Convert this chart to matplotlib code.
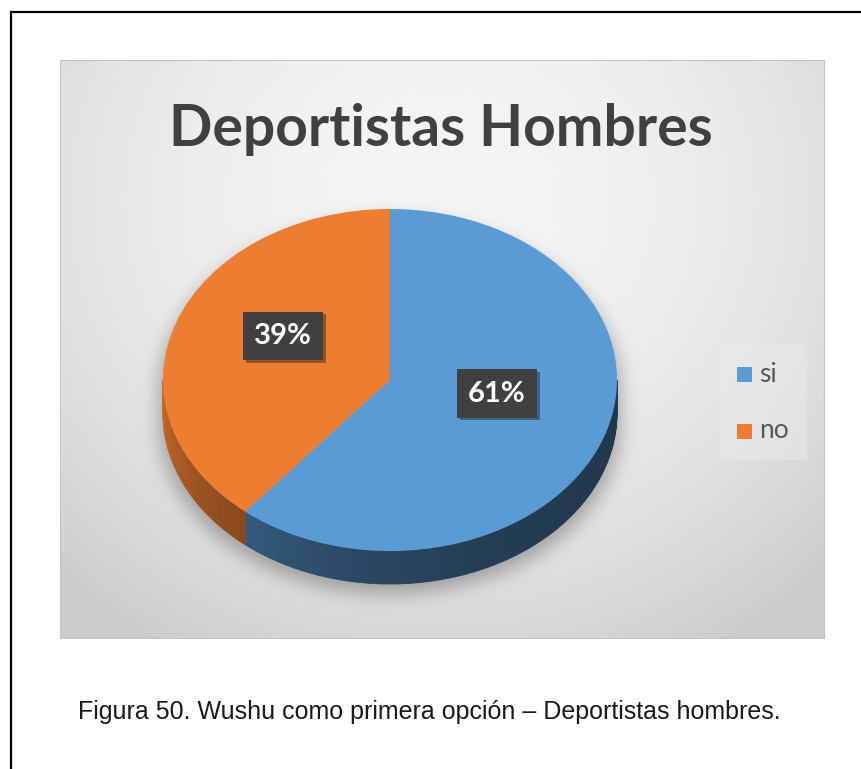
import numpy as np
import matplotlib
matplotlib.use("Agg")
import matplotlib.pyplot as plt
from matplotlib.patches import Polygon, Rectangle
from matplotlib import patheffects as pe
from matplotlib.colors import to_rgb

# ---- data ----
title = "Deportistas Hombres"
categories = ["si", "no"]
values = [61, 39]
colors = ["#5b9bd5", "#ed7d31"]
caption = "Figura 50. Wushu como primera opción – Deportistas hombres."

W, H = 862, 769
fig = plt.figure(figsize=(W / 100, H / 100), dpi=100)
fig.patch.set_facecolor("white")

# full-page axes in pixel units (y downwards)
bg = fig.add_axes([0, 0, 1, 1])
bg.set_xlim(0, W)
bg.set_ylim(H, 0)
bg.axis("off")

# chart area and pie geometry (pixels)
cx0, cy0, cx1, cy1 = 60, 60, 824, 638
pcx, pcy, rx, ry, depth = 390, 380, 227, 171, 33


def blur1d(a, sigma, axis):
    r = int(3 * sigma)
    k = np.exp(-0.5 * (np.arange(-r, r + 1) / sigma) ** 2)
    k /= k.sum()
    return np.apply_along_axis(lambda v: np.convolve(np.pad(v, r, mode="edge"), k, mode="valid"), axis, a)


# radial grey gradient of the chart area
gy, gx = np.mgrid[cy0:cy1, cx0:cx1] + 0.5
dist = np.hypot((gx - 440) / 560, (gy - 200) / 520)
shade = 0.96 - 0.16 * np.clip(dist, 0, 1) ** 2

# soft shadow under the pie
sy = gy - 10
ex = (gx - pcx) / (rx + 4)
top = ex ** 2 + ((sy - pcy) / ry) ** 2 <= 1
bot = ex ** 2 + ((sy - pcy - depth) / ry) ** 2 <= 1
mid = (np.abs(ex) <= 1) & (sy >= pcy) & (sy <= pcy + depth)
mask = (top | bot | mid).astype(float)
mask = blur1d(blur1d(mask, 9, 0), 9, 1)
shade = shade * (1 - 0.28 * mask)

img = np.dstack([shade, shade, shade])
bg.imshow(img, extent=(cx0, cx1, cy1, cy0), interpolation="bilinear", zorder=0)
bg.add_patch(Rectangle((cx0, cy0), cx1 - cx0, cy1 - cy0, fill=False,
                       ec="#c4c4c4", lw=0.8, zorder=1))

# page frame
bg.plot([11, 11], [12, H + 5], color="black", lw=1.6, zorder=2, solid_capstyle="projecting")
bg.plot([11, W + 5], [12, 12], color="black", lw=1.6, zorder=2, solid_capstyle="projecting")

# title
bg.text(441, 146, title, ha="center", va="baseline",
        fontfamily="Lato", fontweight="bold", fontsize=41, color="#404040", zorder=3)

# legend
leg_box = Rectangle((720, 345), 87, 115, fc="#ececec", ec="none", alpha=0.45, zorder=3)
bg.add_patch(leg_box)
for i, (cat, col) in enumerate(zip(categories, colors)):
    y = 374 + i * 57
    bg.add_patch(Rectangle((737, y - 7.5), 15, 15, fc=col, ec="none", zorder=4))
    bg.text(759, y, cat, ha="left", va="center", fontfamily="Lato",
            fontsize=19, color="#595959", zorder=4)

# caption
bg.text(78, 712, caption, ha="left", va="center", fontfamily="Liberation Sans",
        fontsize=18, color="#1a1a1a")

# ---- 3D-looking pie ----
xl = (-1.3, 1.3)
yl = (-1.55, 1.3)
pax = fig.add_axes([(pcx + xl[0] * rx) / W, (H - pcy + yl[0] * ry) / H,
                    (xl[1] - xl[0]) * rx / W, (yl[1] - yl[0]) * ry / H])
wedges, _ = pax.pie(values, colors=colors, startangle=90, counterclock=False,
                    wedgeprops=dict(linewidth=0), frame=False)
pax.set_xlim(xl)
pax.set_ylim(yl)
pax.set_aspect("auto")
pax.axis("off")
pax.patch.set_alpha(0)

dz = depth / ry
for w, col in zip(wedges, colors):
    w.set_zorder(2)
    base = np.array(to_rgb(col))
    for k in (-360, 0, 360):
        a0 = max(w.theta1 + k, -180)
        a1 = min(w.theta2 + k, 0)
        if a1 <= a0:
            continue
        n = max(int(a1 - a0), 1)
        angs = np.linspace(a0, a1, n + 1)
        for t0, t1 in zip(angs[:-1], angs[1:]):
            r0, r1 = np.radians(t0), np.radians(t1)
            tm = (t0 + t1) / 2
            f = 0.36 + 0.5 * ((-tm) / 180) ** 2.5
            c = np.clip(base * f, 0, 1)
            poly = [(np.cos(r0), np.sin(r0)), (np.cos(r1), np.sin(r1)),
                    (np.cos(r1), np.sin(r1) - dz), (np.cos(r0), np.sin(r0) - dz)]
            pax.add_patch(Polygon(poly, closed=True, fc=c, ec=c, lw=0.6, zorder=1))

# percentage labels in dark boxes
for w, v in zip(wedges, values):
    m = np.radians((w.theta1 + w.theta2) / 2)
    t = pax.text(0.5 * np.cos(m), 0.5 * np.sin(m) + 0.09, f"{v}%", ha="center", va="center",
                 fontfamily="Lato", fontweight="bold", fontsize=21, color="white", zorder=5,
                 bbox=dict(boxstyle="square,pad=0.38", fc="#404040", ec="none"))
    t.get_bbox_patch().set_path_effects([pe.withSimplePatchShadow(offset=(2, -2), alpha=0.4)])

fig.savefig("out.png", dpi=100)
